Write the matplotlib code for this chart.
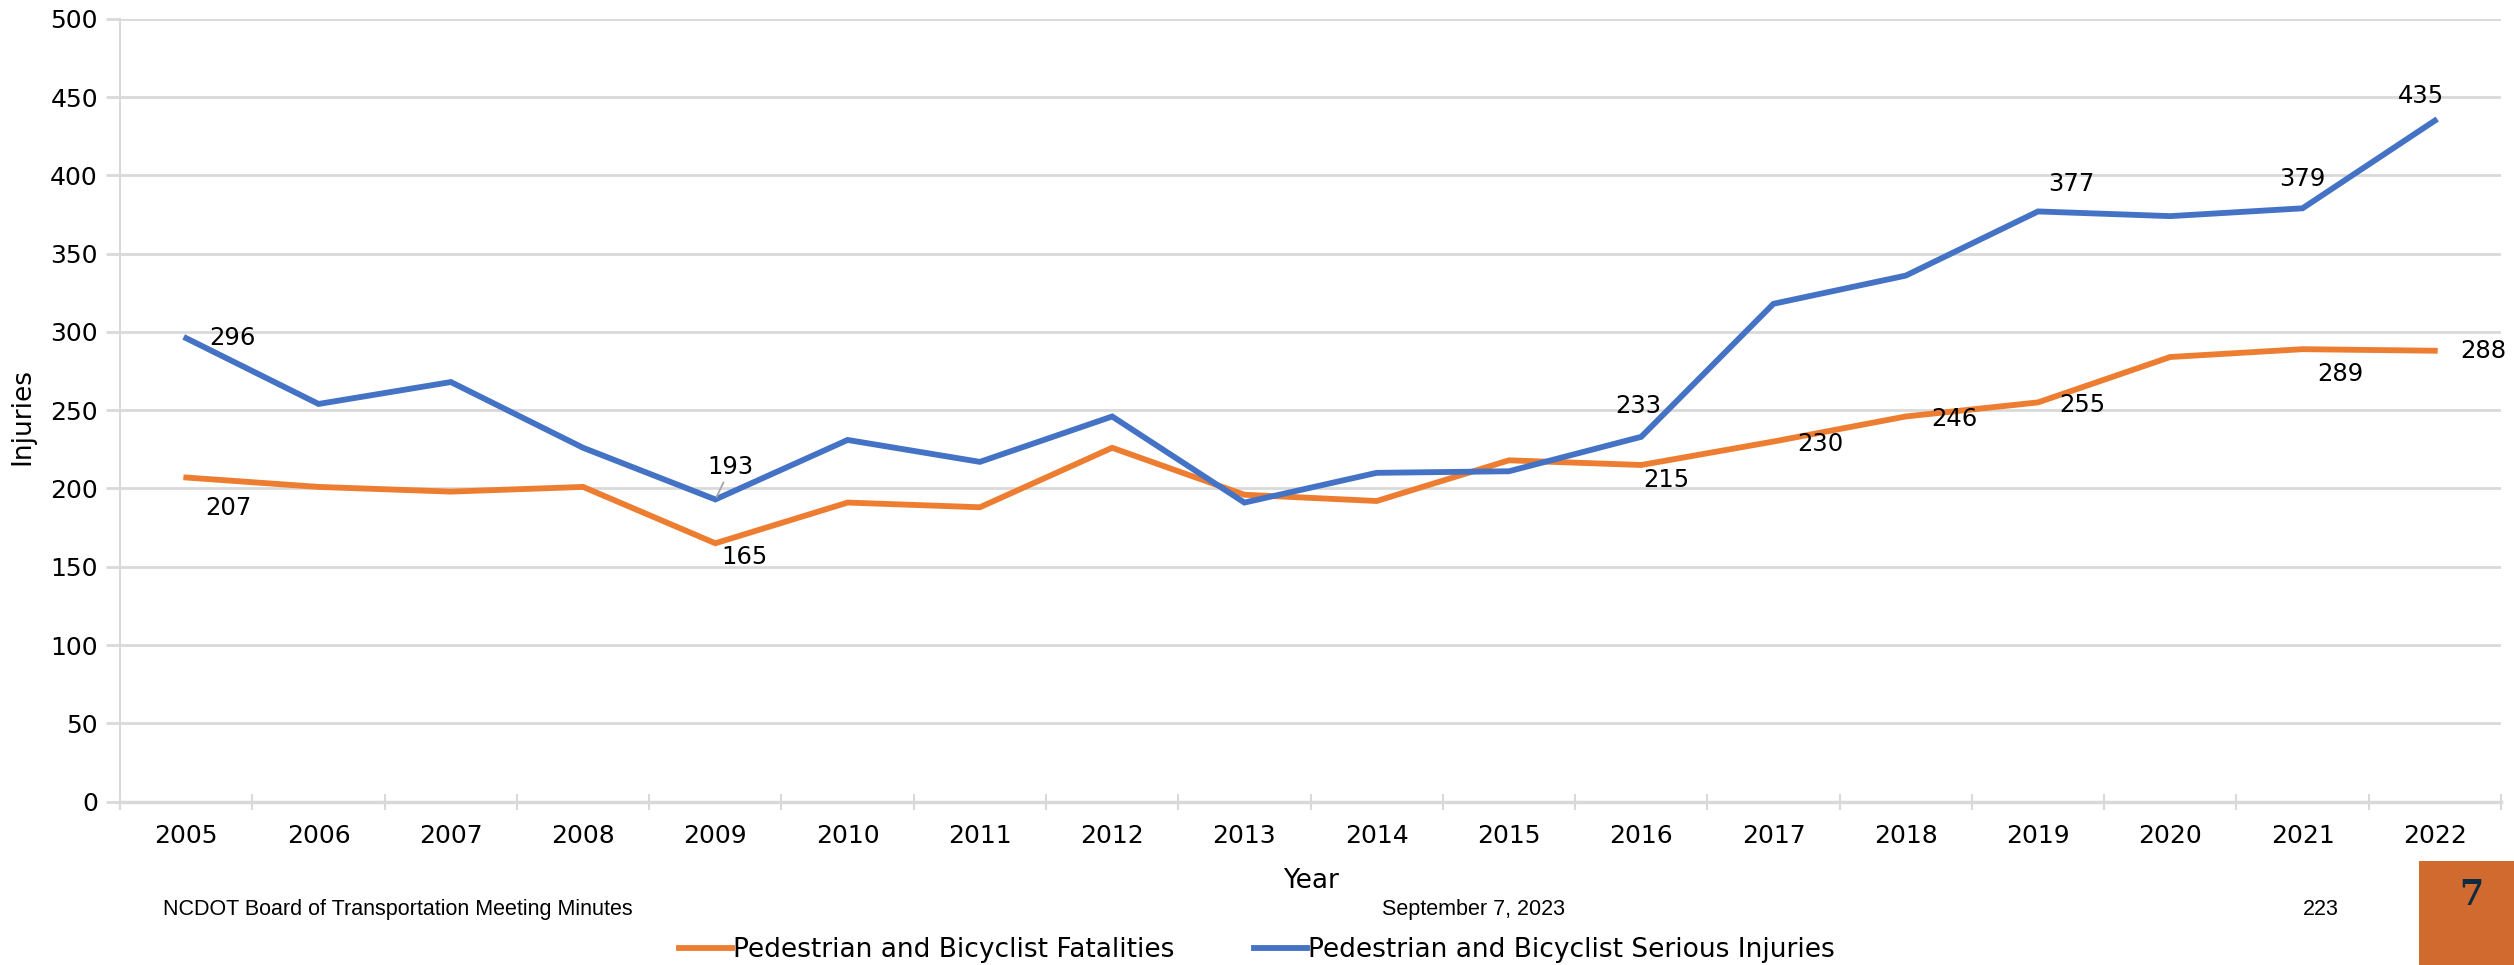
import matplotlib.pyplot as plt
from matplotlib.patches import Rectangle

# Chart data
years = [2005, 2006, 2007, 2008, 2009, 2010, 2011, 2012, 2013,
         2014, 2015, 2016, 2017, 2018, 2019, 2020, 2021, 2022]
fatalities = [207, 201, 198, 201, 165, 191, 188, 226, 196,
              192, 218, 215, 230, 246, 255, 284, 289, 288]
serious = [296, 254, 268, 226, 193, 231, 217, 246, 191,
           210, 211, 233, 318, 336, 377, 374, 379, 435]

# labelled points: (year, offset in points)
fat_labels = {2005: (30, -22), 2009: (21, -10), 2016: (18, -11), 2017: (34, -2),
              2018: (35, -2), 2019: (32, -2), 2021: (27, -18), 2022: (35, 0)}
ser_labels = {2005: (33, 0), 2009: (11, 23), 2016: (-2, 22), 2019: (24, 20),
              2021: (0, 21), 2022: (-10, 18)}

orange = "#ED7D31"
blue = "#4472C4"
grid_col = "#D9D9D9"

plt.rcParams['font.family'] = ['DejaVu Sans']

fig = plt.figure(figsize=(25.14, 9.65), dpi=100)
ax = fig.add_axes([0.0478, 0.1694, 0.947, 0.811])

x = list(range(len(years)))
ax.plot(x, fatalities, color=orange, linewidth=4.2, solid_joinstyle='miter',
        label='Pedestrian and Bicyclist Fatalities')
ax.plot(x, serious, color=blue, linewidth=4.2, solid_joinstyle='miter',
        label='Pedestrian and Bicyclist Serious Injuries')

leader = dict(arrowstyle='-', color='#A6A6A6', lw=1.3, shrinkA=0, shrinkB=2)
for yr, (dx, dy) in fat_labels.items():
    i = years.index(yr)
    ax.annotate(str(fatalities[i]), (i, fatalities[i]), xytext=(dx, dy),
                textcoords='offset points', ha='center', va='center', fontsize=17.5)
for yr, (dx, dy) in ser_labels.items():
    i = years.index(yr)
    ax.annotate(str(serious[i]), (i, serious[i]), xytext=(dx, dy),
                textcoords='offset points', ha='center', va='center', fontsize=17.5,
                arrowprops=leader if yr == 2009 else None)

ax.set_xlim(-0.5, len(years) - 0.5)
ax.set_ylim(0, 500)
ax.set_yticks(range(0, 501, 50))
ax.set_xticks(x)
ax.set_xticklabels([str(y) for y in years])
ax.set_xticks([i - 0.5 for i in range(len(years) + 1)], minor=True)

ax.grid(axis='y', color=grid_col, linewidth=2)
ax.set_axisbelow(True)
for s in ['top', 'right']:
    ax.spines[s].set_visible(False)
ax.spines['left'].set_color(grid_col)
ax.spines['left'].set_linewidth(1.5)
ax.spines['bottom'].set_color(grid_col)
ax.spines['bottom'].set_linewidth(2.5)

ax.tick_params(axis='x', which='major', length=0, pad=16, labelsize=18)
ax.tick_params(axis='x', which='minor', length=12, direction='inout', color=grid_col, width=1.5)
ax.tick_params(axis='y', length=10, color=grid_col, width=2, pad=6, labelsize=18)

ax.set_ylabel('Injuries', fontsize=19)
ax.yaxis.set_label_coords(-0.0357, 0.492)
ax.set_xlabel('Year', fontsize=19)
ax.xaxis.set_label_coords(0.5, -0.085)

# footer
ffont = ['Liberation Sans', 'DejaVu Sans']
fig.text(0.065, 0.058, 'NCDOT Board of Transportation Meeting Minutes',
         fontsize=15.5, family=ffont, va='center', ha='left')
fig.text(0.586, 0.058, 'September 7, 2023', fontsize=15.5, family=ffont,
         va='center', ha='center')
fig.text(0.923, 0.058, '223', fontsize=15.5, family=ffont, va='center', ha='center')

fig.patches.append(Rectangle((0.9624, 0), 0.0376, 0.108, transform=fig.transFigure,
                             facecolor='#D06A2F', edgecolor='none'))
fig.text(0.983, 0.073, '7', fontsize=25, fontweight='bold', color='#0F2B40',
         family=['DejaVu Serif'], va='center', ha='center')

fig.legend(loc='center', bbox_to_anchor=(0.5, 0.0155), ncol=2, frameon=False,
           fontsize=19, handlelength=2.0, handletextpad=0.05, columnspacing=3.0,
           borderpad=0.1)

fig.savefig('out.png', dpi=100)
